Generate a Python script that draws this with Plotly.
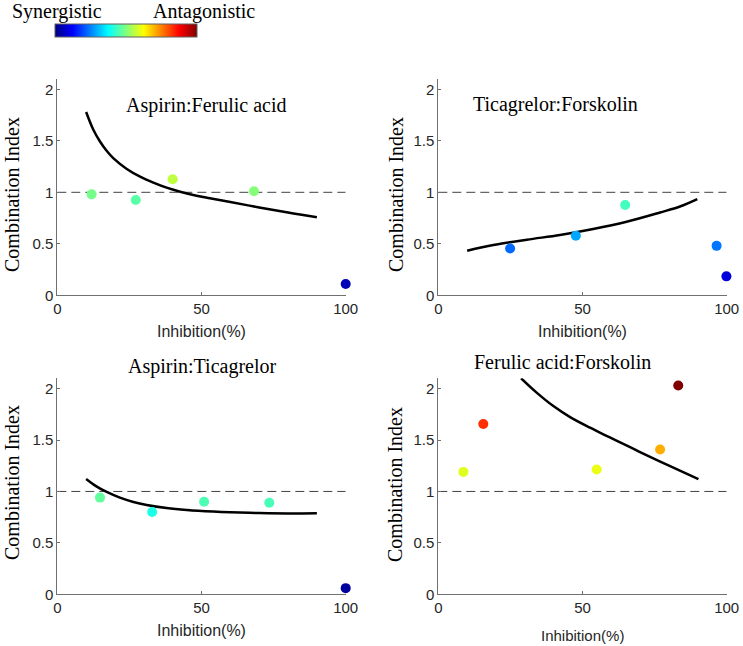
import plotly.graph_objects as go
from plotly.subplots import make_subplots

# Aspirin:Ferulic acid
af_x = [11.9, 27.2, 40.0, 68.2, 100]
af_ci = [0.98, 0.925, 1.127, 1.01, 0.11]
af_fit_x = [10, 12.5, 14.8, 17.1, 19.4, 24.1, 28.7, 33.3, 37.9, 42.6, 48.3, 52.9, 60, 70, 80, 90]
af_fit_ci = [1.78, 1.607, 1.493, 1.403, 1.332, 1.227, 1.152, 1.094, 1.045, 1.006, 0.967,
             0.942, 0.905, 0.853, 0.803, 0.757]

# Ticagrelor:Forskolin
tf_x = [24.9, 47.7, 64.8, 96.5, 99.9]
tf_ci = [0.455, 0.578, 0.876, 0.48, 0.184]
tf_fit_x = [10, 19.1, 30.7, 42.2, 53.7, 65.3, 76.9, 83.8, 89.8]
tf_fit_ci = [0.433, 0.488, 0.540, 0.585, 0.643, 0.714, 0.804, 0.862, 0.934]

# Aspirin:Ticagrelor
at_x = [14.8, 32.9, 50.9, 73.5, 100]
at_ci = [0.94, 0.80, 0.90, 0.89, 0.06]
at_fit_x = [10, 13.7, 17.1, 21.7, 26.4, 31.0, 37.9, 44.9, 54.1, 60, 70, 80, 90]
at_fit_ci = [1.122, 1.047, 0.995, 0.940, 0.898, 0.869, 0.839, 0.820, 0.804, 0.797, 0.79,
             0.786, 0.788]

# Ferulic acid:Forskolin
ff_x = [8.7, 15.6, 54.9, 76.9, 83.2]
ff_ci = [1.19, 1.655, 1.213, 1.408, 2.03]
ff_fit_x = [28.7, 34.1, 39.9, 45.7, 52.6, 59.5, 66.5, 70.5, 80, 90.2]
ff_fit_ci = [2.10, 1.961, 1.83, 1.723, 1.62, 1.525, 1.43, 1.375, 1.25, 1.12]

panel_titles = ["Aspirin:Ferulic acid", "Ticagrelor:Forskolin",
                "Aspirin:Ticagrelor", "Ferulic acid:Forskolin"]
ref_x = [0, 100]
ref_ci = [1, 1]
y_ticks = [0, 0.5, 1, 1.5, 2]
y_ticktext = ["0", "0.5", "1", "1.5", "2"]
x_ticks = [0, 50, 100]

# matlab style jet
jet = [[0, "rgb(0,0,128)"], [0.125, "rgb(0,0,255)"], [0.375, "rgb(0,255,255)"],
       [0.625, "rgb(255,255,0)"], [0.875, "rgb(255,0,0)"], [1, "rgb(128,0,0)"]]

W, H = 743, 646
serif = "Liberation Serif, Times New Roman, serif"
sans = "Liberation Sans, Arial, sans-serif"

fig = make_subplots(rows=2, cols=2)

panels = [
    (af_x, af_ci, af_fit_x, af_fit_ci, 1, 1),
    (tf_x, tf_ci, tf_fit_x, tf_fit_ci, 1, 2),
    (at_x, at_ci, at_fit_x, at_fit_ci, 2, 1),
    (ff_x, ff_ci, ff_fit_x, ff_fit_ci, 2, 2),
]

for i, (px, pci, fx, fci, r, c) in enumerate(panels):
    fig.add_trace(go.Scatter(x=ref_x, y=ref_ci, mode="lines",
                             line=dict(color="#404040", width=1, dash="9px,5px"),
                             showlegend=False, hoverinfo="skip"), row=r, col=c)
    fig.add_trace(go.Scatter(x=fx, y=fci, mode="lines", line_shape="spline",
                             line=dict(color="black", width=2.5),
                             showlegend=False), row=r, col=c)
    marker = dict(color=pci, colorscale=jet, cmin=0, cmax=2, size=10)
    if i == 0:
        marker.update(showscale=True, colorbar=dict(
            orientation="h", lenmode="pixels", len=142, thickness=13,
            x=55 / W, xanchor="left", y=1 - 24 / H, yanchor="top",
            xpad=0, ypad=0, showticklabels=False, ticks="",
            outlinecolor="#606060", outlinewidth=1))
    fig.add_trace(go.Scatter(x=px, y=pci, mode="markers", marker=marker,
                             cliponaxis=False, showlegend=False), row=r, col=c)

# pixel geometry of the four axes boxes
x_dom = [[57.3 / W, 345.7 / W], [438.3 / W, 726.7 / W]]
y_dom = [[1 - 295.3 / H, 1 - 79 / H], [1 - 594.3 / H, 1 - 378.3 / H]]

for r in (1, 2):
    for c in (1, 2):
        fig.update_xaxes(domain=x_dom[c - 1], range=[0, 100], tickvals=x_ticks,
                         row=r, col=c)
        fig.update_yaxes(domain=y_dom[r - 1], range=[0, 2.1], tickvals=y_ticks,
                         ticktext=y_ticktext, row=r, col=c)

axis_style = dict(showline=True, linecolor="#707070", linewidth=1, mirror=False,
                  showgrid=False, zeroline=False, ticks="inside", ticklen=3,
                  tickcolor="#707070", automargin=False,
                  tickfont=dict(family=sans, size=15, color="#262626"))
fig.update_xaxes(**axis_style)
fig.update_yaxes(**axis_style)

annotations = []


def add_text(text, x, y, font, angle=0):
    annotations.append(dict(text=text, x=x / W, y=1 - y / H, xref="paper", yref="paper",
                            showarrow=False, xanchor="center", yanchor="middle",
                            textangle=angle, font=font))


tfont = dict(family=serif, size=20, color="black")
add_text(panel_titles[0], 206.7, 105.7, tfont)
add_text(panel_titles[1], 555.7, 104.3, tfont)
add_text(panel_titles[2], 201.7, 366.7, tfont)
add_text(panel_titles[3], 562.3, 361.7, tfont)

for x, y in [(12, 195), (396, 195), (12, 483), (395, 485)]:
    add_text("Combination Index", x, y, tfont, angle=-90)

xfont = dict(family=sans, size=16, color="#262626")
add_text("Inhibition(%)", 201.5, 331, xfont)
add_text("Inhibition(%)", 582.5, 331, xfont)
add_text("Inhibition(%)", 201.5, 630, xfont)
add_text("Inhibition(%)", 582.5, 635, dict(family=sans, size=15, color="#262626"))

add_text("Synergistic", 57, 12, tfont)
add_text("Antagonistic", 204, 12, tfont)

fig.update_layout(width=W, height=H, margin=dict(l=0, r=0, t=0, b=0),
                  plot_bgcolor="white", paper_bgcolor="white",
                  annotations=annotations)

# page body has a default 8px margin; drop it so the figure fills the window
fig.write_html("out.html", config={"displayModeBar": False},
               post_script="document.body.style.margin='0px';document.body.style.overflow='hidden';")
